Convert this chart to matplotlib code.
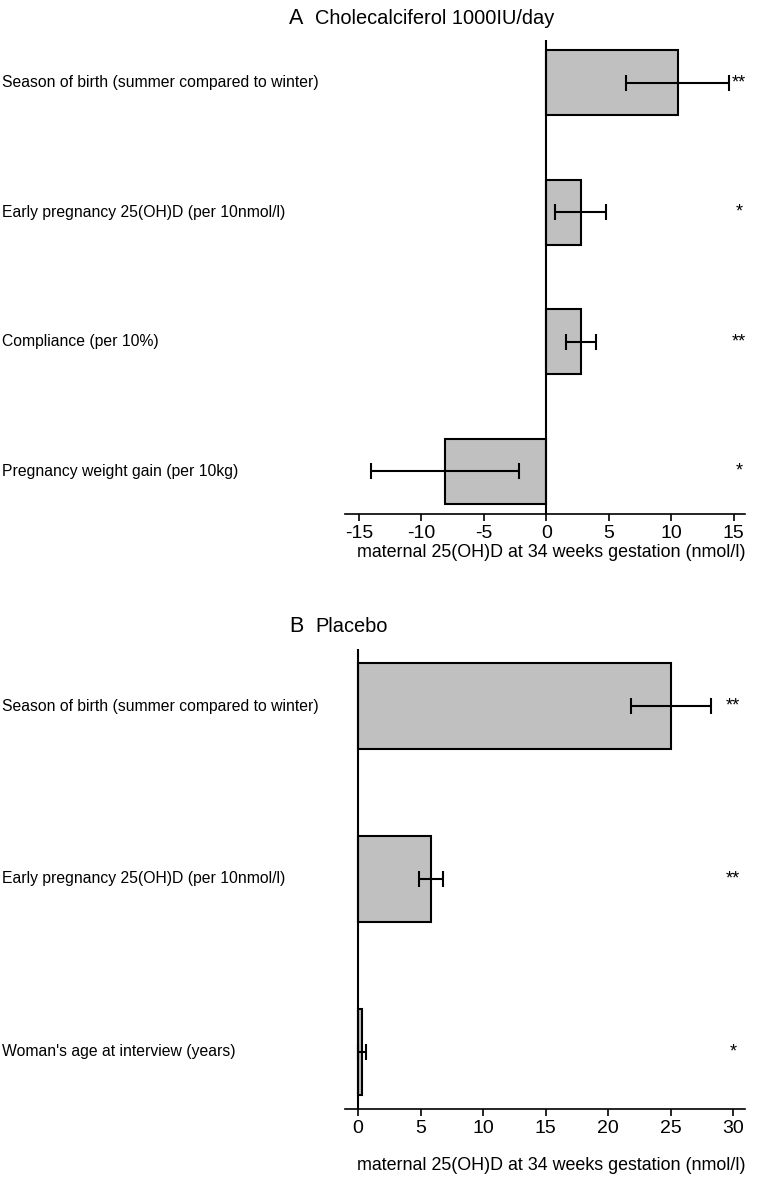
import matplotlib.pyplot as plt
from matplotlib.transforms import blended_transform_factory

plt.rcParams['font.family'] = ['Liberation Sans', 'DejaVu Sans']

# panel A: cholecalciferol group
a_labels = ["Season of birth (summer compared to winter)",
            "Early pregnancy 25(OH)D (per 10nmol/l)",
            "Compliance (per 10%)",
            "Pregnancy weight gain (per 10kg)"]
a_values = [10.5, 2.75, 2.75, -8.1]
a_low = [6.4, 0.7, 1.55, -14.0]
a_high = [14.6, 4.8, 3.95, -2.2]
a_stars = ["**", "*", "**", "*"]

# panel B: placebo group
b_labels = ["Season of birth (summer compared to winter)",
            "Early pregnancy 25(OH)D (per 10nmol/l)",
            "Woman's age at interview (years)"]
b_values = [25.0, 5.85, 0.3]
b_low = [21.8, 4.9, 0.0]
b_high = [28.2, 6.8, 0.65]
b_stars = ["**", "**", "*"]

xlabel = "maternal 25(OH)D at 34 weeks gestation (nmol/l)"

W, H = 762, 1180
fig = plt.figure(figsize=(W / 100, H / 100), dpi=100)


def panel(rect, labels, values, low, high, stars, xlim, ticks, star_x, labelpad):
    ax = fig.add_axes(rect)
    n = len(labels)
    pos = list(range(n))
    xerr = [[v - l for v, l in zip(values, low)], [h - v for v, h in zip(values, high)]]
    ax.barh(pos, values, height=0.5, color="#c0c0c0", edgecolor="black", lw=1.5, zorder=2)
    ax.errorbar(values, pos, xerr=xerr, fmt="none", ecolor="black", elinewidth=1.5,
                capsize=6, capthick=1.5, zorder=3)
    ax.axvline(0, color="black", lw=1.5, zorder=4)
    ax.set_xlim(*xlim)
    ax.set_ylim(n - 1 + 0.33, -0.33)
    for s in ["left", "right", "top"]:
        ax.spines[s].set_visible(False)
    ax.spines["bottom"].set_linewidth(1.2)
    ax.set_yticks([])
    ax.set_xticks(ticks)
    ax.set_xticklabels([str(t) for t in ticks])
    ax.tick_params(axis="x", length=5, width=1.2, labelsize=14, pad=3)
    ax.set_xlabel(xlabel, fontsize=12.9, labelpad=labelpad)
    ax.xaxis.label.set_x(0.515)
    tr = blended_transform_factory(fig.transFigure, ax.transData)
    for p, lab in zip(pos, labels):
        ax.text(2 / W, p, lab, transform=tr, ha="left", va="center", fontsize=11.3)
    for p, st in zip(pos, stars):
        ax.text(star_x, p, st, ha="center", va="center", fontsize=13)
    return ax


panel([345 / W, 1 - 514 / H, 400 / W, 474 / H], a_labels, a_values, a_low, a_high, a_stars,
      (-16.1, 15.9), [-15, -10, -5, 0, 5, 10, 15], 15.4, 1.5)
panel([345 / W, 1 - 1109 / H, 400 / W, 460 / H], b_labels, b_values, b_low, b_high, b_stars,
      (-1.04, 30.96), [0, 5, 10, 15, 20, 25, 30], 30.0, 14)

fig.text(289 / W, 1 - 18 / H, "A", fontsize=15.5, ha="left", va="center")
fig.text(315 / W, 1 - 18 / H, "Cholecalciferol 1000IU/day", fontsize=14.4, ha="left", va="center")
fig.text(289 / W, 1 - 627 / H, "B", fontsize=15.5, ha="left", va="center")
fig.text(315 / W, 1 - 627 / H, "Placebo", fontsize=14.4, ha="left", va="center")

fig.savefig("out.png", dpi=100)
